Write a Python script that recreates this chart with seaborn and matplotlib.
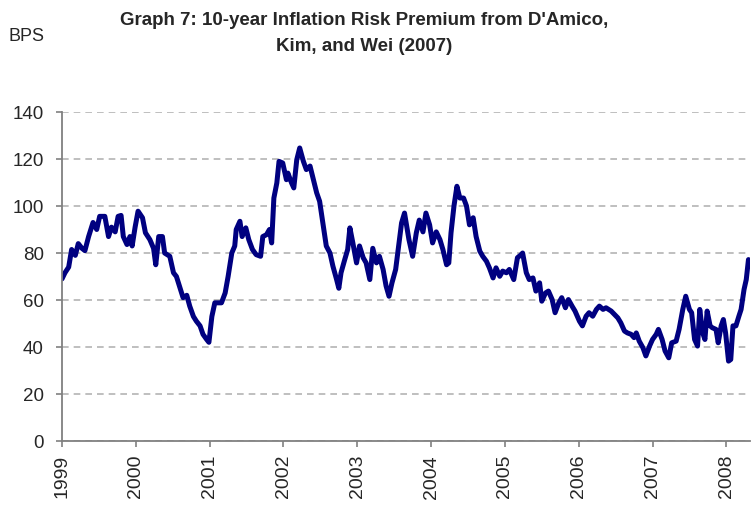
import numpy as np
import pandas as pd
import seaborn as sns
from matplotlib import pyplot as plt

# Values (decimal year, basis points)
years_1999_2000 = [1999.00, 1999.04, 1999.09, 1999.13, 1999.18, 1999.22, 1999.27, 1999.31, 1999.36,
                   1999.42, 1999.47, 1999.51, 1999.58, 1999.63, 1999.67, 1999.72, 1999.76, 1999.80,
                   1999.83, 1999.88, 1999.92, 1999.95, 1999.99, 2000.03, 2000.09, 2000.13, 2000.19,
                   2000.24, 2000.27, 2000.31, 2000.36, 2000.39, 2000.46, 2000.51]
irp_1999_2000 = [69, 71.6, 74, 81.5, 79, 84, 82, 81, 87,
                 93, 90, 95.6, 95.6, 87, 91, 89, 95.6, 96,
                 87, 83.6, 87, 83, 91, 97.8, 95, 88.6, 85.7,
                 82, 75, 87, 87, 80, 78.6, 71.6]

years_2000_2002 = [2000.55, 2000.60, 2000.64, 2000.69, 2000.73, 2000.78, 2000.82, 2000.87, 2000.91,
                   2000.96, 2000.99, 2001.03, 2001.07, 2001.12, 2001.16, 2001.21, 2001.25, 2001.30,
                   2001.34, 2001.36, 2001.41, 2001.44, 2001.49, 2001.53, 2001.58, 2001.63, 2001.69,
                   2001.72, 2001.77, 2001.81, 2001.84, 2001.87, 2001.91, 2001.94, 2001.99, 2002.04]
irp_2000_2002 = [70, 65, 61, 62, 57.4, 53, 51, 49, 45.4,
                 43.2, 42, 53, 58.8, 58.8, 58.8, 63, 70, 80,
                 83, 90, 93.5, 87, 90.7, 85.7, 81.5, 79.3, 78.6,
                 87, 87.8, 90, 84.3, 103.4, 109.8, 119, 118.3, 111.2]

years_2002_2003 = [2002.06, 2002.11, 2002.14, 2002.18, 2002.22, 2002.27, 2002.31, 2002.36, 2002.40,
                   2002.45, 2002.49, 2002.54, 2002.58, 2002.63, 2002.67, 2002.72, 2002.75, 2002.78,
                   2002.83, 2002.87, 2002.90, 2002.94, 2002.99, 2003.03, 2003.08, 2003.12, 2003.17,
                   2003.21, 2003.26, 2003.30, 2003.35, 2003.39, 2003.43, 2003.47, 2003.52, 2003.56,
                   2003.60, 2003.64]
irp_2002_2003 = [114, 109.8, 107.7, 119.7, 124.7, 119, 115.5, 117, 112,
                 105.6, 102, 91.4, 83, 80, 74.4, 68.7, 65, 71.6,
                 77.2, 81.5, 90.7, 84.3, 75.8, 83, 78, 75.8, 68.7,
                 82, 75.8, 78.6, 73, 66, 61.6, 67.3, 73, 83,
                 92.8, 97]

years_2003_2005 = [2003.70, 2003.75, 2003.80, 2003.84, 2003.89, 2003.93, 2003.98, 2004.02, 2004.07,
                   2004.12, 2004.16, 2004.21, 2004.24, 2004.27, 2004.31, 2004.35, 2004.39, 2004.44,
                   2004.48, 2004.52, 2004.57, 2004.61, 2004.66, 2004.70, 2004.75, 2004.79, 2004.84,
                   2004.88, 2004.93, 2004.97, 2005.02, 2005.06, 2005.12, 2005.17]
irp_2003_2005 = [85.7, 78.6, 88.6, 94, 89, 97, 92, 84.3, 89,
                 85.7, 81.5, 75, 75.8, 88.6, 100, 108.4, 103.4, 103.4,
                 100, 92, 95, 87, 80.8, 78.6, 76.5, 73.7, 69.4,
                 73.7, 70.1, 72.3, 71.6, 73, 68.7, 78]

years_2005_2006 = [2005.22, 2005.24, 2005.29, 2005.33, 2005.38, 2005.42, 2005.47, 2005.50, 2005.55,
                   2005.59, 2005.64, 2005.68, 2005.73, 2005.77, 2005.82, 2005.86, 2005.91, 2005.95,
                   2006.01, 2006.05, 2006.10, 2006.14, 2006.19, 2006.24, 2006.28, 2006.33, 2006.37,
                   2006.44, 2006.48, 2006.53, 2006.57, 2006.62, 2006.66, 2006.71, 2006.75]
irp_2005_2006 = [79.3, 80, 71.6, 68.7, 69.4, 63.8, 67.3, 59.5, 63,
                 63.8, 60.2, 54.6, 58.8, 61, 56.7, 60.2, 57.4, 55.3,
                 51, 49, 53.1, 54.6, 53.1, 56, 57.4, 56, 56.7,
                 55.3, 54, 52.4, 50.3, 46.8, 46, 45.4, 44]

years_2006_2008 = [2006.78, 2006.82, 2006.87, 2006.91, 2006.96, 2007.00, 2007.05, 2007.08, 2007.13,
                   2007.17, 2007.22, 2007.26, 2007.32, 2007.36, 2007.41, 2007.45, 2007.50, 2007.53,
                   2007.57, 2007.61, 2007.64, 2007.68, 2007.71, 2007.74, 2007.78, 2007.81, 2007.86,
                   2007.89, 2007.93, 2007.96, 2007.99, 2008.03, 2008.06, 2008.09, 2008.13, 2008.17,
                   2008.20, 2008.24, 2008.27, 2008.30]
irp_2006_2008 = [46, 42.5, 39.7, 36.2, 40.4, 43.2, 45.4, 47.5, 43.2,
                 38.3, 35.4, 41.8, 42.5, 47.5, 56, 61.6, 56, 54.6,
                 43.2, 40.4, 56, 46, 43.2, 55.3, 49, 48.2, 47.5,
                 41.8, 49, 51.7, 46, 34, 34.7, 49, 49, 53.1,
                 56, 64.5, 68.7, 77.2]

year_ticks = [1999, 2000, 2001, 2002, 2003, 2004, 2005, 2006, 2007, 2008]
bps_ticks = [0, 20, 40, 60, 80, 100, 120, 140]

title = "Graph 7: 10-year Inflation Risk Premium from D'Amico,\nKim, and Wei (2007)"

df = pd.DataFrame({
    "year": years_1999_2000 + years_2000_2002 + years_2002_2003 + years_2003_2005
            + years_2005_2006 + years_2006_2008,
    "bps": irp_1999_2000 + irp_2000_2002 + irp_2002_2003 + irp_2003_2005
           + irp_2005_2006 + irp_2006_2008,
})

sns.set_style("white")
plt.rcParams['font.family'] = ['Liberation Sans', 'DejaVu Sans']

fig = plt.figure(figsize=(7.51, 5.05), dpi=100)
ax = fig.add_axes([0.0826, 0.1267, 0.916, 0.6515])

sns.lineplot(data=df, x="year", y="bps", ax=ax, color="#000080", linewidth=3.6, sort=False)

ax.set_xlim(1999, 2008.32)
ax.set_ylim(0, 140)
ax.set_xticks(year_ticks)
ax.set_xticklabels([str(y) for y in year_ticks], rotation=90, fontsize=14)
ax.set_yticks(bps_ticks)
ax.set_yticklabels([str(v) for v in bps_ticks], fontsize=13.5)
ax.set_xlabel("")
ax.set_ylabel("")

ax.yaxis.grid(True, color="#b4b4b4", linestyle=(0, (4, 3)), linewidth=1.2)
ax.xaxis.grid(False)
ax.set_axisbelow(True)

for s in ["top", "right"]:
    ax.spines[s].set_visible(False)
for s in ["left", "bottom"]:
    ax.spines[s].set_color("#808080")
    ax.spines[s].set_linewidth(1.3)

ax.tick_params(axis="y", direction="out", length=4, width=1.2, color="#808080", pad=9, left=True)
ax.tick_params(axis="x", direction="out", length=4, width=1.2, color="#808080", pad=6, bottom=True)

fig.text(0.485, 0.976, title, ha="center", va="top", fontsize=13.5, fontweight="bold",
         linespacing=1.65)
fig.text(0.011, 0.928, "BPS", ha="left", va="center", fontsize=13)

fig.savefig("out.png", dpi=100)
